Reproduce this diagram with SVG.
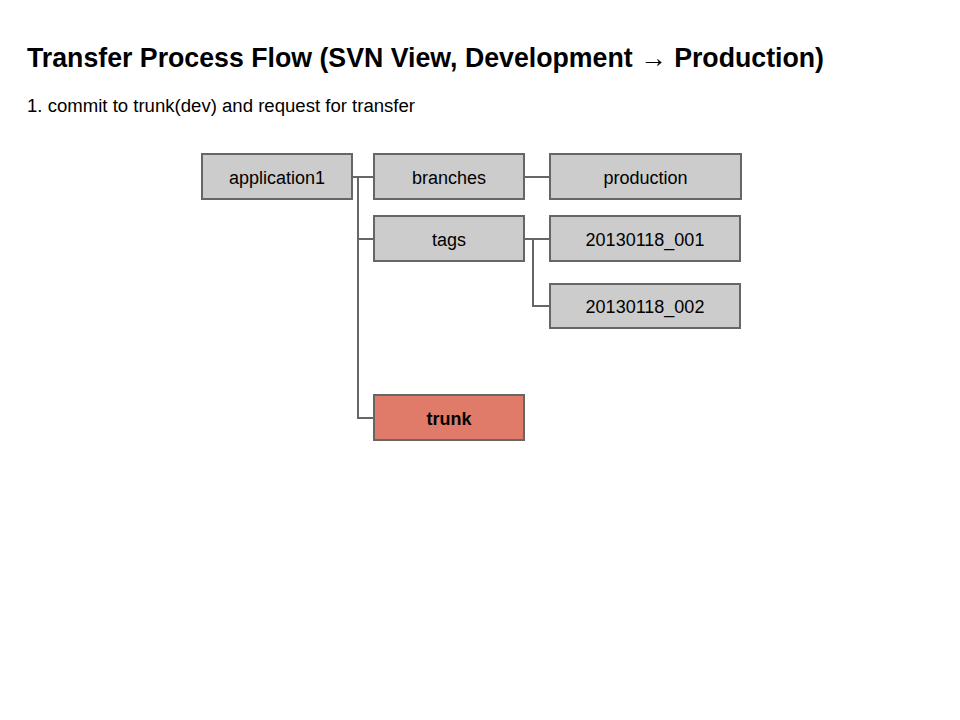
<svg xmlns="http://www.w3.org/2000/svg" width="960" height="720" viewBox="0 0 960 720">
<style>
.n rect{fill:#cccccc;stroke:#666666;stroke-width:2}
.n text{font-family:"Liberation Sans",Arial,sans-serif;font-size:18px;fill:#000;text-anchor:middle}
#trunk rect{fill:#e07b6a}
#trunk text{font-weight:bold}
.c path{fill:none;stroke:#666666;stroke-width:2}
.t{font-family:"Liberation Sans",Arial,sans-serif;fill:#000}
</style>
<rect width="960" height="720" fill="#fff"/>
<text class="t" x="27" y="67" font-size="27" font-weight="bold" textLength="797" lengthAdjust="spacingAndGlyphs">Transfer Process Flow (SVN View, Development → Production)</text>
<text class="t" x="27" y="112" font-size="18" textLength="388" lengthAdjust="spacingAndGlyphs">1. commit to trunk(dev) and request for transfer</text>
<g class="c" id="connectors">
<path d="M352,177 H374"/>
<path d="M358,177 V418 H374"/>
<path d="M358,239 H374"/>
<path d="M524,177 H550"/>
<path d="M524,239 H550"/>
<path d="M533,239 V306 H550"/>
</g>
<g class="n" id="application1"><rect x="202" y="154" width="150" height="45"/><text x="277" y="183.5">application1</text></g>
<g class="n" id="branches"><rect x="374" y="154" width="150" height="45"/><text x="449" y="183.5">branches</text></g>
<g class="n" id="production"><rect x="550" y="154" width="191" height="45"/><text x="645.5" y="183.5">production</text></g>
<g class="n" id="tags"><rect x="374" y="216" width="150" height="45"/><text x="449" y="245.5">tags</text></g>
<g class="n" id="tag1"><rect x="550" y="216" width="190" height="45"/><text x="645" y="245.5">20130118_001</text></g>
<g class="n" id="tag2"><rect x="550" y="284" width="190" height="44"/><text x="645" y="312.5">20130118_002</text></g>
<g class="n" id="trunk"><rect x="374" y="395" width="150" height="45"/><text x="449" y="424.5">trunk</text></g>
</svg>
